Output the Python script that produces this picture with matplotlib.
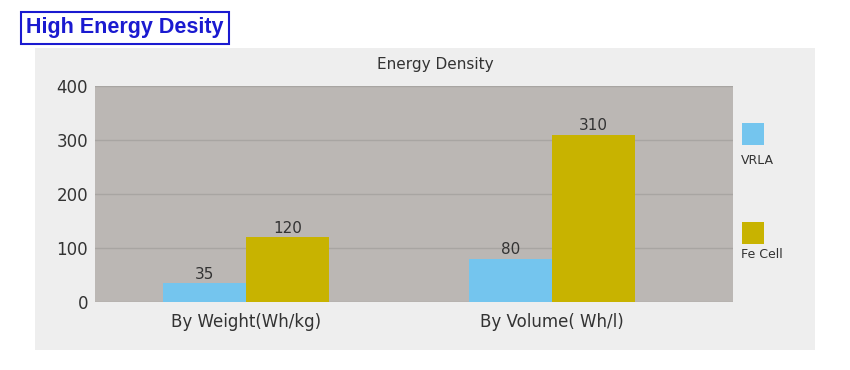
import matplotlib.pyplot as plt
import numpy as np
from matplotlib.patches import Rectangle

categories = ["By Weight(Wh/kg)", "By Volume( Wh/l)"]
series_names = ["VRLA", "Fe Cell"]
vrla = [35, 80]
fe_cell = [120, 310]
y_ticks = [0, 100, 200, 300, 400]

colors = ["#74c5ee", "#c8b300"]

plt.rcParams["font.family"] = ["DejaVu Sans"]

W, H = 850, 370
fig = plt.figure(figsize=(W / 100, H / 100), dpi=100)
fig.patch.set_facecolor("white")


def fx(px):
    return px / W


def fy(py):
    return 1 - py / H


# light gray panel behind the chart
fig.patches.append(Rectangle((fx(35), fy(350)), fx(815) - fx(35), fy(48) - fy(350),
                             transform=fig.transFigure, facecolor="#eeeeee",
                             edgecolor="none", zorder=-5))

# header box
fig.text(fx(26), fy(28), "High Energy Desity", fontsize=15.5, fontweight="bold",
         color="#1a1ad0", family="Liberation Sans", va="center", ha="left",
         bbox=dict(boxstyle="square,pad=0.24", facecolor="white", edgecolor="#1a1ad0", linewidth=1.5))

ax = fig.add_axes([fx(95), fy(302), fx(733) - fx(95), fy(86) - fy(302)])
ax.set_facecolor("#bbb7b4")

x = np.arange(len(categories))
w = 0.272
b1 = ax.bar(x - w / 2, vrla, w, color=colors[0], zorder=3)
b2 = ax.bar(x + w / 2, fe_cell, w, color=colors[1], zorder=3)
ax.bar_label(b1, padding=1, fontsize=11, color="#333333")
ax.bar_label(b2, padding=1, fontsize=11, color="#333333")

ax.set_xlim(-0.493, 1.591)
ax.set_ylim(0, 400)
ax.set_yticks(y_ticks)
ax.set_xticks(x)
ax.set_xticklabels(categories)
ax.tick_params(axis="both", length=0, labelsize=12, colors="#333333")
ax.tick_params(axis="x", pad=8)
ax.tick_params(axis="y", pad=5)
ax.grid(axis="y", color="#a8a5a2", linewidth=1, zorder=1)
for s in ax.spines.values():
    s.set_visible(False)

fig.text(fx(435), fy(65), "Energy Density", fontsize=11, color="#333333",
         ha="center", va="center")

# legend: square with label underneath
legend_square_top = [123, 222]
legend_text_y = [160, 254]
for i, name in enumerate(series_names):
    top = legend_square_top[i]
    fig.patches.append(Rectangle((fx(742), fy(top + 22)), fx(22), fy(top) - fy(top + 22),
                                 transform=fig.transFigure, facecolor=colors[i],
                                 edgecolor="none"))
    fig.text(fx(741), fy(legend_text_y[i]), name, fontsize=9, color="#333333",
             ha="left", va="center")

fig.savefig("out.png", dpi=100)
